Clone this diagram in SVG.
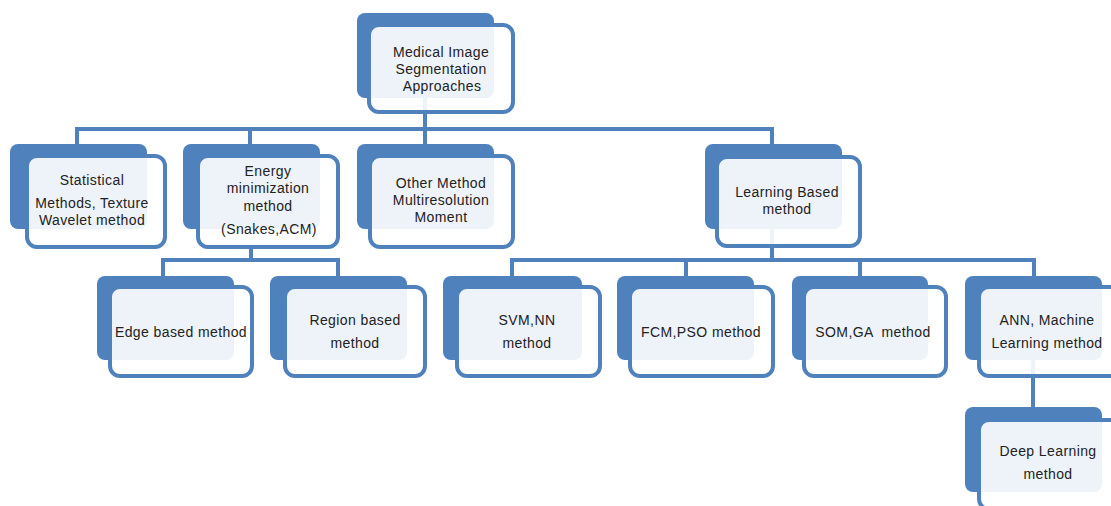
<svg xmlns="http://www.w3.org/2000/svg" width="1111" height="506" viewBox="0 0 1111 506">
<style>
.back{fill:#4f81bd;}
.front{fill:#ffffff;fill-opacity:0.9;stroke:#4f81bd;stroke-width:4;}
.conn{fill:none;stroke:#4f81bd;stroke-width:4;}
text{font-family:"Liberation Sans",Arial,sans-serif;font-size:14px;fill:#222222;text-anchor:middle;letter-spacing:0.4px;}
</style>
<rect width="1111" height="506" fill="#ffffff"/>
<g id="connectors">
<path class="conn" d="M425,98 V129 M77,146 V129 H772 V146 M250,129 V146 M425,129 V146"/>
<path class="conn" d="M251,247 V260 M163,278 V260 H338 V278"/>
<path class="conn" d="M772,229 V260 M512,278 V260 H1034 V278 M686,260 V278 M860,260 V278"/>
<path class="conn" d="M1033,360 V409"/>
</g>
<g id="root">
<rect class="back" x="357" y="13" width="137" height="85" rx="8"/>
<rect class="front" x="369" y="25" width="144" height="87" rx="10"/>
<text x="441" y="57">Medical Image</text>
<text x="441" y="74">Segmentation</text>
<text x="442" y="91">Approaches</text>
</g>
<g id="statistical">
<rect class="back" x="10" y="144" width="137" height="85" rx="8"/>
<rect class="front" x="27" y="156" width="138" height="91" rx="10"/>
<text x="92" y="185">Statistical</text>
<text x="92" y="208">Methods, Texture</text>
<text x="92" y="225">Wavelet method</text>
</g>
<g id="energy">
<rect class="back" x="183" y="144" width="137" height="85" rx="8"/>
<rect class="front" x="198" y="156" width="140" height="91" rx="10"/>
<text x="268" y="176">Energy</text>
<text x="268" y="193">minimization</text>
<text x="268" y="211">method</text>
<text x="269" y="234">(Snakes,ACM)</text>
</g>
<g id="other">
<rect class="back" x="357" y="144" width="137" height="85" rx="8"/>
<rect class="front" x="370" y="156" width="143" height="91" rx="10"/>
<text x="441" y="188">Other Method</text>
<text x="441" y="205">Multiresolution</text>
<text x="441" y="222">Moment</text>
</g>
<g id="learning">
<rect class="back" x="705" y="144" width="137" height="85" rx="8"/>
<rect class="front" x="717" y="157" width="143" height="89" rx="10"/>
<text x="787" y="197">Learning Based</text>
<text x="787" y="214">method</text>
</g>
<g id="edge">
<rect class="back" x="97" y="276" width="137" height="84" rx="8"/>
<rect class="front" x="110" y="287" width="142" height="89" rx="10"/>
<text x="181" y="337">Edge based method</text>
</g>
<g id="region">
<rect class="back" x="270" y="276" width="137" height="84" rx="8"/>
<rect class="front" x="285" y="287" width="140" height="89" rx="10"/>
<text x="355" y="325">Region based</text>
<text x="355" y="348">method</text>
</g>
<g id="svm">
<rect class="back" x="443" y="276" width="139" height="84" rx="8"/>
<rect class="front" x="457" y="287" width="143" height="89" rx="10"/>
<text x="527" y="325">SVM,NN</text>
<text x="527" y="348">method</text>
</g>
<g id="fcm">
<rect class="back" x="617" y="276" width="137" height="84" rx="8"/>
<rect class="front" x="630" y="287" width="143" height="89" rx="10"/>
<text x="701" y="337">FCM,PSO method</text>
</g>
<g id="som">
<rect class="back" x="792" y="276" width="136" height="84" rx="8"/>
<rect class="front" x="804" y="287" width="142" height="89" rx="10"/>
<text x="873" y="337" xml:space="preserve">SOM,GA  method</text>
</g>
<g id="ann">
<rect class="back" x="965" y="276" width="137" height="84" rx="8"/>
<rect class="front" x="979" y="287" width="143" height="89" rx="10"/>
<text x="1047" y="325">ANN, Machine</text>
<text x="1047" y="348">Learning method</text>
</g>
<g id="deep">
<rect class="back" x="965" y="407" width="137" height="85" rx="8"/>
<rect class="front" x="979" y="420" width="143" height="89" rx="10"/>
<text x="1048" y="456">Deep Learning</text>
<text x="1048" y="479">method</text>
</g>
</svg>
